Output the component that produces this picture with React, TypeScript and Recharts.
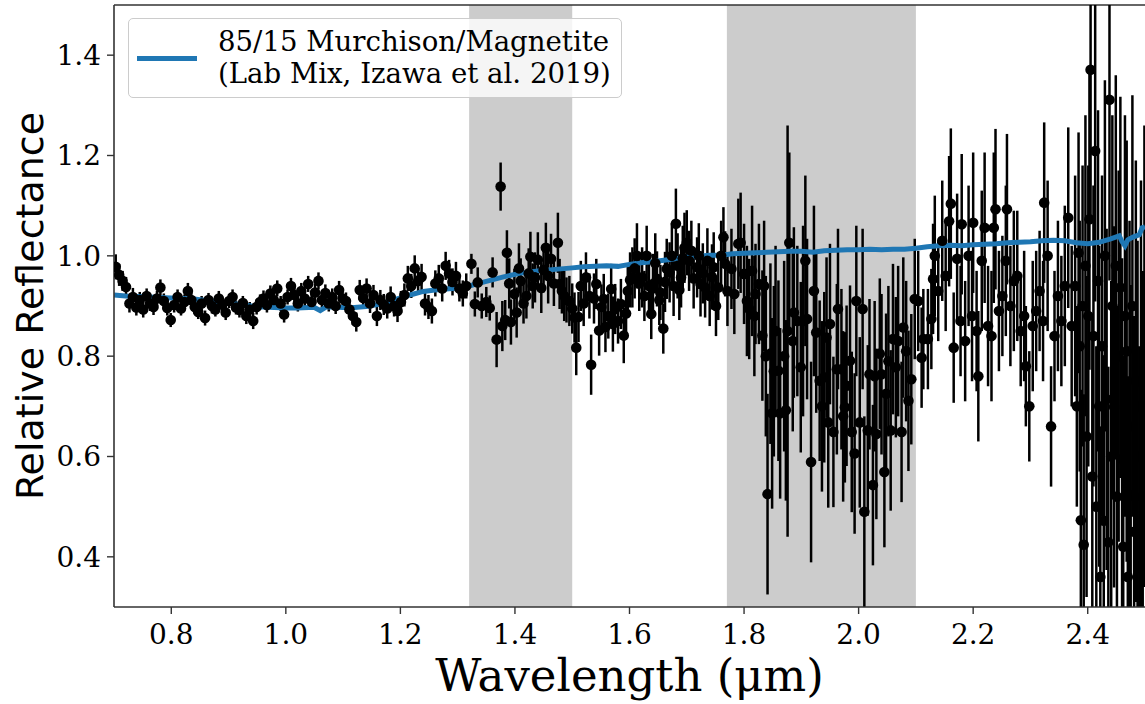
import React from 'react';
import {
  ComposedChart,
  Scatter,
  Line,
  XAxis,
  YAxis,
  ErrorBar,
  ReferenceArea,
  ReferenceLine,
  Legend,
} from 'recharts';

// ---------- axis ticks / labels ----------
const xTicks = [0.8, 1.0, 1.2, 1.4, 1.6, 1.8, 2.0, 2.2, 2.4];
const yTicks = [0.4, 0.6, 0.8, 1.0, 1.2, 1.4];
const xDomain = [0.7, 2.5];
const yDomain = [0.3, 1.5];
const shadedBands = [
  [1.32, 1.5],
  [1.77, 2.1],
];
const legendLines = ['85/15 Murchison/Magnetite', '(Lab Mix, Izawa et al. 2019)'];
const xLabel = 'Wavelength (\u03bcm)';
const yLabel = 'Relative Reflectance';

// ---------- observed spectrum: [wavelength, reflectance, 1-sigma] ----------
const obsVisible = [
  [0.703, 0.978, 0.025], [0.709, 0.962, 0.022], [0.715, 0.95, 0.02], [0.721, 0.938, 0.02],
  [0.727, 0.905, 0.018], [0.733, 0.918, 0.018], [0.739, 0.897, 0.016], [0.745, 0.912, 0.016],
  [0.751, 0.893, 0.016], [0.757, 0.92, 0.015], [0.763, 0.905, 0.015], [0.769, 0.898, 0.016],
  [0.775, 0.915, 0.015], [0.781, 0.937, 0.016], [0.787, 0.91, 0.015], [0.793, 0.896, 0.015],
  [0.799, 0.872, 0.014], [0.805, 0.902, 0.015], [0.811, 0.918, 0.015], [0.817, 0.895, 0.014],
  [0.823, 0.908, 0.015], [0.829, 0.93, 0.016], [0.835, 0.912, 0.015], [0.841, 0.898, 0.014],
  [0.847, 0.888, 0.014], [0.853, 0.905, 0.015], [0.859, 0.876, 0.015], [0.865, 0.912, 0.014],
  [0.871, 0.9, 0.015], [0.877, 0.893, 0.014], [0.883, 0.915, 0.015], [0.889, 0.903, 0.014],
  [0.895, 0.887, 0.015], [0.901, 0.91, 0.014], [0.907, 0.918, 0.015], [0.913, 0.897, 0.014],
  [0.919, 0.892, 0.015], [0.925, 0.906, 0.014], [0.931, 0.88, 0.016], [0.937, 0.893, 0.015],
  [0.943, 0.87, 0.016], [0.949, 0.898, 0.015], [0.955, 0.908, 0.015], [0.961, 0.915, 0.016],
  [0.967, 0.902, 0.015], [0.973, 0.925, 0.016], [0.979, 0.912, 0.015], [0.985, 0.935, 0.016],
  [0.991, 0.905, 0.015], [0.997, 0.883, 0.016], [1.003, 0.918, 0.015], [1.009, 0.94, 0.016],
  [1.015, 0.922, 0.015], [1.021, 0.905, 0.016], [1.027, 0.93, 0.016], [1.033, 0.915, 0.015],
  [1.039, 0.944, 0.016], [1.045, 0.908, 0.016], [1.051, 0.927, 0.017], [1.057, 0.95, 0.017],
  [1.063, 0.912, 0.016], [1.069, 0.926, 0.017], [1.075, 0.905, 0.016], [1.081, 0.918, 0.017],
  [1.087, 0.9, 0.016], [1.093, 0.932, 0.018], [1.099, 0.915, 0.017], [1.105, 0.91, 0.017],
  [1.111, 0.893, 0.018], [1.117, 0.88, 0.018], [1.123, 0.868, 0.019], [1.129, 0.932, 0.02],
  [1.135, 0.916, 0.019], [1.141, 0.935, 0.02], [1.147, 0.905, 0.019], [1.153, 0.922, 0.02],
  [1.159, 0.88, 0.02], [1.165, 0.912, 0.02], [1.171, 0.903, 0.021], [1.177, 0.895, 0.02],
  [1.183, 0.918, 0.021], [1.189, 0.9, 0.021], [1.195, 0.89, 0.022], [1.201, 0.908, 0.022],
  [1.207, 0.922, 0.023], [1.213, 0.955, 0.025], [1.219, 0.94, 0.024], [1.225, 0.975, 0.026],
  [1.231, 0.95, 0.025], [1.237, 0.958, 0.026], [1.243, 0.905, 0.024], [1.249, 0.898, 0.024],
  [1.255, 0.89, 0.025], [1.261, 0.945, 0.026], [1.267, 0.955, 0.027], [1.273, 0.935, 0.026],
  [1.279, 0.98, 0.028], [1.285, 0.965, 0.027], [1.291, 0.948, 0.027], [1.297, 0.96, 0.028],
  [1.303, 0.935, 0.026], [1.309, 0.925, 0.026],
];

const obsBand1 = [
  [1.315, 0.94, 0.025], [1.324, 0.984, 0.02], [1.33, 0.904, 0.025], [1.335, 0.947, 0.03],
  [1.342, 0.9, 0.025], [1.35, 0.908, 0.03], [1.356, 0.896, 0.025], [1.361, 0.967, 0.03],
  [1.368, 0.833, 0.055], [1.375, 1.138, 0.048], [1.378, 0.86, 0.05], [1.383, 0.872, 0.04],
  [1.386, 1.006, 0.045], [1.39, 0.945, 0.05], [1.393, 0.868, 0.045], [1.399, 0.924, 0.05],
  [1.403, 0.887, 0.05], [1.407, 0.975, 0.05], [1.41, 0.95, 0.045], [1.415, 0.905, 0.04],
  [1.42, 0.92, 0.045], [1.424, 0.965, 0.05], [1.427, 0.998, 0.05], [1.431, 0.94, 0.045],
  [1.435, 0.957, 0.05], [1.44, 0.992, 0.055], [1.446, 0.936, 0.05], [1.45, 0.972, 0.045],
  [1.454, 1.016, 0.05], [1.458, 0.96, 0.055], [1.463, 0.994, 0.05], [1.468, 0.945, 0.045],
  [1.475, 1.026, 0.06], [1.478, 0.944, 0.05], [1.482, 0.93, 0.045], [1.486, 0.92, 0.05],
  [1.49, 0.912, 0.045], [1.495, 0.91, 0.05], [1.5, 0.895, 0.05],
];

const obsMid = [
  [1.504, 0.877, 0.05], [1.507, 0.817, 0.055], [1.511, 0.878, 0.05], [1.515, 0.94, 0.05],
  [1.52, 0.905, 0.045], [1.524, 0.957, 0.05], [1.53, 0.92, 0.045], [1.533, 0.783, 0.06],
  [1.538, 0.915, 0.05], [1.542, 0.944, 0.05], [1.547, 0.851, 0.05], [1.551, 0.898, 0.045],
  [1.555, 0.914, 0.05], [1.558, 0.858, 0.05], [1.563, 0.88, 0.045], [1.568, 0.934, 0.05],
  [1.571, 0.864, 0.055], [1.575, 0.894, 0.05], [1.58, 0.87, 0.045], [1.585, 0.904, 0.05],
  [1.59, 0.841, 0.055], [1.594, 0.885, 0.05], [1.597, 0.93, 0.05], [1.601, 0.952, 0.055],
  [1.605, 0.957, 0.06], [1.609, 0.975, 0.06], [1.613, 1.0, 0.065], [1.617, 0.945, 0.055],
  [1.622, 0.957, 0.06], [1.626, 0.92, 0.05], [1.63, 1.0, 0.06], [1.634, 0.94, 0.055],
  [1.638, 0.884, 0.05], [1.641, 0.944, 0.06], [1.645, 0.985, 0.06], [1.648, 0.954, 0.055],
  [1.652, 0.912, 0.05], [1.654, 0.927, 0.055], [1.659, 0.855, 0.05], [1.662, 0.948, 0.06],
  [1.665, 0.974, 0.06], [1.67, 0.967, 0.06], [1.674, 1.0, 0.065], [1.677, 0.94, 0.06],
  [1.681, 1.064, 0.07], [1.684, 0.98, 0.065], [1.687, 0.932, 0.06], [1.69, 0.957, 0.06],
  [1.693, 0.995, 0.065], [1.696, 1.016, 0.07], [1.7, 1.026, 0.065], [1.704, 0.99, 0.06],
  [1.708, 1.01, 0.06], [1.712, 0.955, 0.06], [1.718, 0.977, 0.06], [1.721, 1.0, 0.065],
  [1.724, 0.944, 0.065], [1.728, 0.965, 0.06], [1.732, 0.937, 0.06], [1.736, 0.99, 0.065],
  [1.74, 0.92, 0.06], [1.744, 0.958, 0.065], [1.747, 0.977, 0.07], [1.751, 0.9, 0.06],
  [1.755, 0.937, 0.065], [1.76, 1.0, 0.07], [1.764, 1.037, 0.06], [1.767, 0.984, 0.065],
];

const obsBand2 = [
  [1.771, 0.93, 0.07], [1.778, 0.974, 0.08], [1.783, 0.924, 0.08], [1.79, 1.024, 0.09],
  [1.794, 1.026, 0.1], [1.8, 0.964, 0.1], [1.805, 0.91, 0.11], [1.809, 0.894, 0.1],
  [1.814, 0.97, 0.13], [1.818, 0.88, 0.12], [1.82, 0.924, 0.1], [1.826, 0.944, 0.12],
  [1.832, 0.841, 0.13], [1.835, 0.94, 0.13], [1.838, 0.8, 0.16], [1.841, 0.525, 0.2],
  [1.846, 0.805, 0.18], [1.849, 0.686, 0.19], [1.852, 0.77, 0.17], [1.855, 0.85, 0.17],
  [1.86, 0.771, 0.18], [1.863, 0.686, 0.17], [1.87, 0.8, 0.19], [1.873, 0.692, 0.18],
  [1.876, 0.85, 0.41], [1.879, 1.026, 0.18], [1.885, 0.83, 0.18], [1.887, 0.887, 0.17],
  [1.893, 0.87, 0.15], [1.899, 0.778, 0.17], [1.903, 0.87, 0.19], [1.907, 0.99, 0.17],
  [1.91, 0.874, 0.16], [1.917, 0.589, 0.2], [1.922, 0.93, 0.17], [1.926, 0.847, 0.16],
  [1.932, 0.751, 0.16], [1.936, 0.7, 0.17], [1.94, 0.758, 0.17], [1.944, 0.837, 0.16],
  [1.947, 0.668, 0.17], [1.95, 0.864, 0.16], [1.956, 0.649, 0.15], [1.962, 0.774, 0.17],
  [1.964, 0.894, 0.16], [1.97, 0.774, 0.16], [1.973, 0.68, 0.17], [1.976, 0.698, 0.15],
  [1.979, 0.741, 0.16], [1.985, 0.791, 0.15], [1.988, 0.649, 0.16], [1.993, 0.606, 0.16],
  [1.996, 0.91, 0.15], [2.002, 0.668, 0.17], [2.007, 0.894, 0.16], [2.01, 0.49, 0.19],
  [2.016, 0.652, 0.17], [2.019, 0.764, 0.15], [2.025, 0.543, 0.16], [2.028, 0.76, 0.15],
  [2.031, 0.645, 0.17], [2.037, 0.805, 0.15], [2.04, 0.764, 0.16], [2.045, 0.569, 0.15],
  [2.048, 0.725, 0.16], [2.052, 0.79, 0.15], [2.056, 0.652, 0.16], [2.06, 0.834, 0.15],
  [2.065, 0.778, 0.14], [2.069, 0.83, 0.15], [2.075, 0.649, 0.14], [2.078, 0.857, 0.14],
  [2.083, 0.81, 0.14], [2.087, 0.711, 0.14], [2.092, 0.754, 0.13], [2.098, 0.914, 0.12],
];

const obsLong = [
  [2.104, 0.91, 0.1], [2.11, 0.797, 0.1], [2.113, 0.834, 0.1], [2.121, 0.834, 0.1],
  [2.127, 0.874, 0.1], [2.13, 0.954, 0.11], [2.133, 1.0, 0.12], [2.139, 0.93, 0.1],
  [2.146, 1.03, 0.12], [2.152, 0.96, 0.11], [2.158, 1.069, 0.13], [2.161, 1.104, 0.15],
  [2.166, 0.817, 0.11], [2.172, 0.994, 0.13], [2.178, 0.87, 0.11], [2.18, 1.063, 0.14],
  [2.186, 0.83, 0.12], [2.192, 1.0, 0.14], [2.198, 0.88, 0.13], [2.2, 1.066, 0.14],
  [2.206, 0.85, 0.12], [2.209, 0.76, 0.13], [2.215, 0.99, 0.14], [2.22, 1.056, 0.15],
  [2.226, 0.86, 0.12], [2.232, 0.84, 0.13], [2.236, 1.056, 0.15], [2.239, 1.093, 0.16],
  [2.245, 0.89, 0.12], [2.251, 0.92, 0.12], [2.257, 0.99, 0.15], [2.259, 1.093, 0.15],
  [2.265, 0.9, 0.12], [2.271, 0.95, 0.14], [2.277, 0.96, 0.13], [2.283, 0.85, 0.11],
  [2.289, 0.88, 0.13], [2.292, 0.78, 0.12], [2.298, 0.7, 0.11], [2.304, 0.86, 0.13],
  [2.31, 0.89, 0.12], [2.316, 0.93, 0.12], [2.322, 0.87, 0.12], [2.324, 1.106, 0.16],
  [2.33, 1.0, 0.15], [2.336, 0.66, 0.12], [2.342, 0.84, 0.13], [2.348, 0.92, 0.15],
  [2.354, 0.87, 0.13], [2.36, 0.94, 0.16], [2.366, 1.076, 0.18], [2.372, 0.86, 0.16],
];

const obsEdge = [
  [2.378, 0.94, 0.22], [2.381, 0.7, 0.2], [2.384, 1.006, 0.24], [2.386, 0.82, 0.25],
  [2.388, 0.473, 0.26], [2.391, 0.9, 0.28], [2.393, 0.424, 0.3], [2.396, 0.98, 0.3],
  [2.398, 0.64, 0.32], [2.401, 0.88, 0.3], [2.403, 1.073, 0.3], [2.405, 1.371, 0.3],
  [2.408, 0.56, 0.32], [2.41, 0.84, 0.3], [2.413, 1.209, 0.3], [2.415, 0.5, 0.32],
  [2.418, 0.95, 0.34], [2.42, 0.7, 0.32], [2.422, 0.36, 0.3], [2.425, 0.82, 0.34],
  [2.428, 0.472, 0.33], [2.43, 1.0, 0.35], [2.433, 0.714, 0.34], [2.436, 0.429, 0.35],
  [2.438, 1.311, 0.36], [2.441, 0.6, 0.35], [2.443, 0.9, 0.38], [2.446, 0.699, 0.36],
  [2.449, 0.98, 0.38], [2.451, 0.52, 0.38], [2.454, 0.8, 0.37], [2.457, 0.937, 0.38],
  [2.46, 0.595, 0.4], [2.462, 0.42, 0.38], [2.465, 0.88, 0.4], [2.468, 0.81, 0.42],
  [2.47, 0.36, 0.4], [2.473, 0.66, 0.41], [2.475, 0.522, 0.42], [2.478, 0.9, 0.42],
  [2.481, 0.45, 0.43], [2.484, 0.75, 0.44], [2.487, 0.6, 0.43], [2.49, 0.38, 0.44],
  [2.493, 0.7, 0.45], [2.496, 0.52, 0.45], [2.499, 0.8, 0.46],
];

// ---------- lab-mix model spectrum: [wavelength, reflectance] ----------
const labMix = [
  [0.7, 0.922], [0.72, 0.92], [0.74, 0.919], [0.76, 0.918], [0.78, 0.917], [0.8, 0.916],
  [0.82, 0.915], [0.84, 0.914], [0.86, 0.911], [0.88, 0.909], [0.9, 0.906], [0.92, 0.903],
  [0.94, 0.9], [0.96, 0.898], [0.98, 0.897], [1.0, 0.896], [1.02, 0.896], [1.04, 0.897],
  [1.05, 0.897], [1.06, 0.891], [1.07, 0.898], [1.08, 0.898], [1.1, 0.897], [1.12, 0.897],
  [1.14, 0.899], [1.16, 0.903], [1.18, 0.909], [1.2, 0.916], [1.22, 0.923], [1.24, 0.929],
  [1.26, 0.932], [1.28, 0.934], [1.3, 0.936], [1.32, 0.94], [1.34, 0.946], [1.36, 0.952],
  [1.38, 0.958], [1.4, 0.963], [1.42, 0.967], [1.44, 0.97], [1.46, 0.972], [1.48, 0.974],
  [1.5, 0.976], [1.52, 0.978], [1.54, 0.979], [1.56, 0.98], [1.58, 0.979], [1.6, 0.983],
  [1.62, 0.986], [1.64, 0.988], [1.66, 0.991], [1.68, 0.994], [1.7, 0.997], [1.72, 0.999],
  [1.74, 1.001], [1.76, 1.001], [1.78, 1.004], [1.8, 1.005], [1.82, 1.006], [1.84, 1.007],
  [1.86, 1.008], [1.88, 1.009], [1.9, 1.009], [1.92, 1.007], [1.94, 1.01], [1.96, 1.011],
  [1.98, 1.012], [2.0, 1.012], [2.02, 1.013], [2.04, 1.012], [2.06, 1.013], [2.08, 1.013],
  [2.1, 1.015], [2.12, 1.018], [2.14, 1.02], [2.16, 1.021], [2.18, 1.02], [2.2, 1.022],
  [2.22, 1.023], [2.24, 1.024], [2.26, 1.026], [2.28, 1.027], [2.3, 1.028], [2.32, 1.03],
  [2.34, 1.031], [2.36, 1.03], [2.38, 1.026], [2.4, 1.024], [2.42, 1.027], [2.44, 1.034],
  [2.45, 1.038], [2.455, 1.04], [2.46, 1.028], [2.465, 1.02], [2.47, 1.032], [2.48, 1.038],
  [2.49, 1.042], [2.495, 1.056], [2.5, 1.058],
];

// error bars are drawn only inside the visible y range (like a clipped axes)
const observed = [...obsVisible, ...obsBand1, ...obsMid, ...obsBand2, ...obsLong, ...obsEdge].map(
  ([x, y, e]) => ({
    x,
    y,
    err: [y - Math.max(y - e, yDomain[0]), Math.min(y + e, yDomain[1]) - y],
  })
);
const model = labMix.map(([x, y]) => ({ x, y }));

const SERIF = "'DejaVu Serif', serif";
const SANS = "'DejaVu Sans', sans-serif";
const BLUE = '#1f77b4';
const SPINE = '#333333';

const Dot = (props: any) => {
  const { cx, cy } = props;
  if (cx == null || cy == null) return null;
  return <circle cx={cx} cy={cy} r={5.3} fill="#000000" />;
};

const renderLegend = () => (
  <div
    style={{
      position: 'relative',
      width: 492,
      height: 78,
      border: '1px solid #cccccc',
      borderRadius: 5,
      background: 'rgba(255,255,255,0.8)',
      fontFamily: SERIF,
      fontSize: 27.6,
      color: '#000',
    }}
  >
    <div
      style={{
        position: 'absolute',
        left: 8,
        top: 37,
        width: 60,
        height: 5,
        background: BLUE,
      }}
    />
    <div style={{ position: 'absolute', left: 89, top: 7, lineHeight: '32px', whiteSpace: 'nowrap' }}>
      <div>{legendLines[0]}</div>
      <div>{legendLines[1]}</div>
    </div>
  </div>
);

const XLabel = (props: any) => {
  const vb = props.viewBox || {};
  const cx = vb.x + vb.width / 2;
  return (
    <text x={cx} y={691} textAnchor="middle" fontFamily={SERIF} fontSize={45} fill="#000">
      {xLabel}
    </text>
  );
};

const YLabel = (props: any) => {
  const vb = props.viewBox || {};
  const cy = vb.y + vb.height / 2;
  return (
    <text
      x={43}
      y={cy}
      transform={`rotate(-90, 43, ${cy})`}
      textAnchor="middle"
      fontFamily={SANS}
      fontSize={38}
      fill="#000"
    >
      {yLabel}
    </text>
  );
};

export default function App() {
  return (
    <div
      style={{
        position: 'absolute',
        left: 0,
        top: 0,
        width: 1145,
        height: 704,
        overflow: 'hidden',
        background: '#ffffff',
      }}
    >
      <ComposedChart width={1145} height={704} margin={{ top: 5, right: 0, bottom: 0, left: 0 }}>
        {shadedBands.map(([a, b], i) => (
          <ReferenceArea
            key={`band-${i}`}
            x1={a}
            x2={b}
            y1={yDomain[0]}
            y2={yDomain[1]}
            fill="#cccccc"
            fillOpacity={1}
            stroke="none"
            ifOverflow="hidden"
          />
        ))}
        <XAxis
          type="number"
          dataKey="x"
          domain={xDomain}
          allowDataOverflow
          ticks={xTicks}
          tickFormatter={(v: number) => v.toFixed(1)}
          height={97}
          tickSize={7}
          tickMargin={10}
          stroke={SPINE}
          strokeWidth={1.6}
          tickLine={{ stroke: SPINE, strokeWidth: 1.4 }}
          tick={{ fontFamily: SERIF, fontSize: 28, fill: '#000' }}
          label={<XLabel />}
        />
        <YAxis
          type="number"
          dataKey="y"
          domain={yDomain}
          allowDataOverflow
          ticks={yTicks}
          tickFormatter={(v: number) => v.toFixed(1)}
          width={114}
          tickSize={7}
          tickMargin={6}
          stroke={SPINE}
          strokeWidth={1.6}
          tickLine={{ stroke: SPINE, strokeWidth: 1.4 }}
          tick={{ fontFamily: SERIF, fontSize: 28, fill: '#000' }}
          label={<YLabel />}
        />
        <ReferenceLine y={yDomain[1]} stroke={SPINE} strokeWidth={1.6} />
        <Scatter
          name="Observed"
          data={observed}
          dataKey="y"
          shape={<Dot />}
          isAnimationActive={false}
          legendType="none"
        >
          <ErrorBar dataKey="err" direction="y" width={0} stroke="#000000" strokeWidth={2.5} />
        </Scatter>
        <Line
          name="Lab mix"
          data={model}
          dataKey="y"
          type="linear"
          stroke={BLUE}
          strokeWidth={5}
          dot={false}
          activeDot={false}
          isAnimationActive={false}
        />
        <Legend
          layout="horizontal"
          verticalAlign="middle"
          align="center"
          content={renderLegend}
          wrapperStyle={{ left: 128, top: 18, width: 'auto', height: 'auto' }}
        />
      </ComposedChart>
    </div>
  );
}
